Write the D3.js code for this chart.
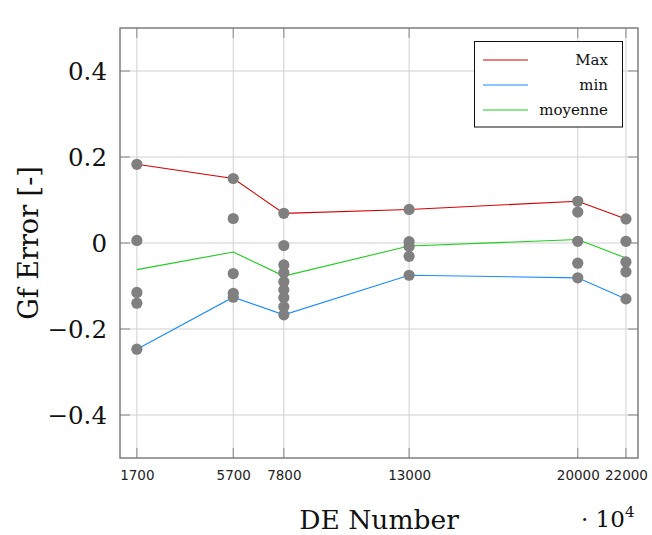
<!DOCTYPE html>
<html>
<head>
<meta charset="utf-8">
<script src="https://cdn.jsdelivr.net/npm/d3@7"></script>
<style>
  html, body { margin: 0; padding: 0; background: #fff; }
  svg { display: block; }
</style>
</head>
<body>
<svg id="chart" width="652" height="535"></svg>
<script>
// ---- data ----
const xTicks = [1700, 5700, 7800, 13000, 20000, 22000];
const yTicks = [-0.4, -0.2, 0, 0.2, 0.4];
const yTickLabels = ["\u22120.4", "\u22120.2", "0", "0.2", "0.4"];

// scatter points (DE number, Gf error)
const scatterX = [
  1700, 1700, 1700, 1700, 1700,
  5700, 5700, 5700, 5700, 5700,
  7800, 7800, 7800, 7800, 7800, 7800, 7800, 7800, 7800,
  13000, 13000, 13000, 13000, 13000,
  20000, 20000, 20000, 20000, 20000,
  22000, 22000, 22000, 22000, 22000
];
const scatterY = [
  0.183, 0.006, -0.115, -0.140, -0.247,
  0.150, 0.057, -0.071, -0.117, -0.126,
  0.069, -0.006, -0.051, -0.069, -0.090, -0.109, -0.127, -0.148, -0.167,
  0.078, 0.003, -0.008, -0.031, -0.075,
  0.097, 0.072, 0.004, -0.047, -0.081,
  0.056, 0.004, -0.044, -0.067, -0.130
];

const maxValues  = [0.183, 0.150, 0.069, 0.078, 0.097, 0.056];
const minValues  = [-0.247, -0.126, -0.167, -0.075, -0.081, -0.130];
const meanValues = [-0.062, -0.021, -0.077, -0.007, 0.008, -0.035];

const seriesNames  = ["Max", "min", "moyenne"];
const seriesColors = ["#d40000", "#1a8cff", "#1fcc1f"];

// ---- layout ----
const svg = d3.select("#chart");
const L = 120, R = 638, T = 28, B = 458;

const x = d3.scaleLinear().domain([1000, 22500]).range([L, R]);
const y = d3.scaleLinear().domain([-0.5, 0.5]).range([B, T]);

// grid
const grid = svg.append("g");
grid.selectAll("line.vx").data(xTicks).enter().append("line")
  .attr("x1", d => x(d)).attr("x2", d => x(d))
  .attr("y1", T).attr("y2", B)
  .attr("stroke", "#d0d0d0").attr("stroke-width", 1);
grid.selectAll("line.hy").data(yTicks).enter().append("line")
  .attr("x1", L).attr("x2", R)
  .attr("y1", d => y(d)).attr("y2", d => y(d))
  .attr("stroke", "#d0d0d0").attr("stroke-width", 1);

// inner tick marks (all four sides)
const tk = svg.append("g").attr("stroke", "#8a8a8a").attr("stroke-width", 1);
xTicks.forEach(d => {
  tk.append("line").attr("x1", x(d)).attr("x2", x(d)).attr("y1", B).attr("y2", B - 10);
  tk.append("line").attr("x1", x(d)).attr("x2", x(d)).attr("y1", T).attr("y2", T + 10);
});
yTicks.forEach(d => {
  tk.append("line").attr("x1", L).attr("x2", L + 10).attr("y1", y(d)).attr("y2", y(d));
  tk.append("line").attr("x1", R).attr("x2", R - 10).attr("y1", y(d)).attr("y2", y(d));
});

// axes using d3 axis generators for labels
const xAxis = d3.axisBottom(x).tickValues(xTicks).tickSize(0).tickPadding(0)
  .tickFormat(d => String(d));
const gx = svg.append("g").attr("transform", `translate(0,${B})`).call(xAxis);
gx.select(".domain").remove();
gx.selectAll("text")
  .attr("y", 17).attr("dy", null)
  .attr("font-family", "DejaVu Sans").attr("font-size", 13.5)
  .attr("fill", "#222").attr("dominant-baseline", "central");

const yAxis = d3.axisLeft(y).tickValues(yTicks).tickSize(0).tickPadding(0)
  .tickFormat((d, i) => yTickLabels[i]);
const gy = svg.append("g").attr("transform", `translate(${L},0)`).call(yAxis);
gy.select(".domain").remove();
gy.selectAll("text")
  .attr("x", -13).attr("dy", null)
  .attr("font-family", "DejaVu Serif").attr("font-size", 24.5)
  .attr("fill", "#111").attr("dominant-baseline", "central")
  .attr("text-anchor", "end");

// lines
const lineData = [maxValues, minValues, meanValues];
const lineGen = d3.line().x((d, i) => x(xTicks[i])).y(d => y(d));
svg.append("g").selectAll("path").data(lineData).enter().append("path")
  .attr("d", d => lineGen(d))
  .attr("fill", "none")
  .attr("stroke", (d, i) => seriesColors[i])
  .attr("stroke-width", 1.1);

// scatter
svg.append("g").selectAll("circle").data(scatterY).enter().append("circle")
  .attr("cx", (d, i) => x(scatterX[i]))
  .attr("cy", d => y(d))
  .attr("r", 5.6)
  .attr("fill", "#808080");

// frame
svg.append("rect").attr("x", L).attr("y", T).attr("width", R - L).attr("height", B - T)
  .attr("fill", "none").attr("stroke", "#6a6a6a").attr("stroke-width", 1.3);

// legend
const lg = svg.append("g");
lg.append("rect").attr("x", 474.5).attr("y", 41.5).attr("width", 148).attr("height", 85.5)
  .attr("fill", "#fff").attr("stroke", "#111").attr("stroke-width", 1);
seriesNames.forEach((name, i) => {
  const yy = 60 + i * 25;
  lg.append("line").attr("x1", 483).attr("x2", 528).attr("y1", yy).attr("y2", yy)
    .attr("stroke", seriesColors[i]).attr("stroke-width", 1.1);
  lg.append("text").attr("x", 608).attr("y", yy).attr("text-anchor", "end")
    .attr("dominant-baseline", "central")
    .attr("font-family", "DejaVu Serif").attr("font-size", 15)
    .attr("fill", "#111").text(name);
});

// axis titles
svg.append("text").attr("x", (L + R) / 2).attr("y", 519)
  .attr("text-anchor", "middle").attr("dominant-baseline", "central")
  .attr("font-family", "DejaVu Serif").attr("font-size", 26.5)
  .attr("fill", "#111").text("DE Number");

svg.append("text").attr("transform", `translate(28,${(T + B) / 2}) rotate(-90)`)
  .attr("text-anchor", "middle").attr("dominant-baseline", "central")
  .attr("font-family", "DejaVu Serif").attr("font-size", 27)
  .attr("fill", "#111").text("Gf Error [-]");

// multiplier
const mult = svg.append("text").attr("x", 581).attr("y", 527)
  .attr("font-family", "DejaVu Serif").attr("font-size", 23).attr("fill", "#111");
mult.append("tspan").text("\u00B7 10");
mult.append("tspan").attr("dy", -10).attr("font-size", 15).text("4");
</script>
</body>
</html>
